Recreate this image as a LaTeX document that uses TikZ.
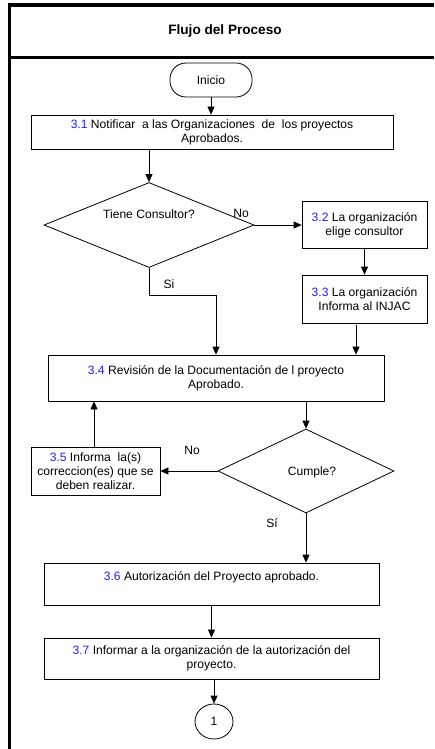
\documentclass[tikz,border=0pt]{standalone}
\usepackage{fontspec}
\setmainfont{Liberation Sans}
\usetikzlibrary{shapes.geometric,arrows.meta}
\definecolor{numblue}{RGB}{30,30,255}
\newcommand{\nb}[1]{\textcolor{numblue}{#1}}
\tikzset{
  txt/.style={font=\fontsize{12.1}{13.8}\selectfont, align=center, inner sep=0pt},
  box/.style={draw=black, line width=0.8pt, rectangle, inner sep=0pt, txt},
  dec/.style={draw=black, line width=0.8pt, diamond, inner sep=0pt},
  conn/.style={line width=0.8pt, -{Triangle[length=8pt,width=7pt]}},
  frame/.style={line width=3.2pt},
}
\begin{document}
\begin{tikzpicture}[x=1pt,y=-1pt]
\useasboundingbox (0,0) rectangle (434,749);
% frame
\coordinate (tl) at (8,5);
\coordinate (tr) at (434,5);
\coordinate (sl) at (8,57.5);
\coordinate (sr) at (434,57.5);
\coordinate (bl) at (9.5,749);
\coordinate (tlv) at (9.5,3.4);
\draw[frame] (tl) -- (tr);
\draw[frame] (sl) -- (sr);
\draw[frame] (tlv) -- (bl);
\node[font=\bfseries\fontsize{13.6}{15}\selectfont, inner sep=0pt] (title) at (225,31) {Flujo del Proceso};

% nodes
\node[draw=black, line width=0.8pt, rounded corners=16pt, minimum width=82pt, minimum height=34pt, txt] (ini) at (211,80) {Inicio};
\node[box, minimum width=362pt, minimum height=34pt] (b31) at (212,132) {\nb{3.1} Notificar\ \ a las Organizaciones\ \ de\ \ los proyectos\\Aprobados.};
\node[dec, minimum width=210pt, minimum height=85pt] (d1) at (149,225) {};
\node[txt] (t1) at (149,214) {Tiene Consultor?};
\node[box, minimum width=125pt, minimum height=47pt] (b32) at (364.5,225) {\nb{3.2} La organización\\elige consultor};
\node[box, minimum width=125pt, minimum height=48pt] (b33) at (364.5,299) {\nb{3.3} La organización\\Informa al INJAC};
\node[box, minimum width=336pt, minimum height=46pt] (b34) at (216,378) {\nb{3.4} Revisión de la Documentación de l proyecto\\Aprobado.};
\node[dec, minimum width=176pt, minimum height=84pt] (d2) at (306,471) {};
\node[txt] (t2) at (312,472) {Cumple?};
\node[box, minimum width=129pt, minimum height=48pt] (b35) at (95.5,471) {\nb{3.5} Informa\ \ la(s)\\correccion(es) que se\\deben realizar.};
\node[box, minimum width=335pt, minimum height=42pt] (b36) at (211.5,584) {};
\node[txt] (t36) at (211.5,577) {\nb{3.6} Autorización del Proyecto aprobado.};
\node[box, minimum width=335pt, minimum height=41pt] (b37) at (211.5,658.5) {\nb{3.7} Informar a la organización de la autorización del\\proyecto.};
\node[draw=black, line width=0.8pt, ellipse, minimum width=38pt, minimum height=35pt, inner sep=0pt, txt] (c1) at (214,721.5) {1};

% labels
\node[txt] (lno1) at (241,213) {No};
\node[txt] (lsi1) at (169,284) {Si};
\node[txt] (lno2) at (192,450) {No};
\node[txt] (lsi2) at (272,523) {Sí};

% connectors
\coordinate (k1) at (149,295);
\draw[conn] (ini.south) -- (b31.north -| ini.south);
\draw[conn] (b31.south -| d1.north) -- (d1.north);
\draw[conn] (d1.east) -- (d1.east -| b32.west);
\draw[conn] (b32.south) -- (b33.north);
\coordinate (k2) at (356,325);
\draw[conn] (k2) -- (b34.north -| k2);
\coordinate (k3) at (216,295);
\draw[conn] (d1.south) -- (k1) -- (k3) -- (b34.north -| k3);
\draw[conn] (b34.south -| d2.north) -- (d2.north);
\draw[conn] (d2.west) -- (b35.east |- d2.west);
\coordinate (k4) at (94,447);
\draw[conn] (k4) -- (b34.south -| k4);
\draw[conn] (d2.south) -- (b36.north -| d2.south);
\draw[conn] (b36.south -| b37.north) -- (b37.north);
\draw[conn] (b37.south -| c1.north) -- (c1.north);
\end{tikzpicture}
\end{document}
